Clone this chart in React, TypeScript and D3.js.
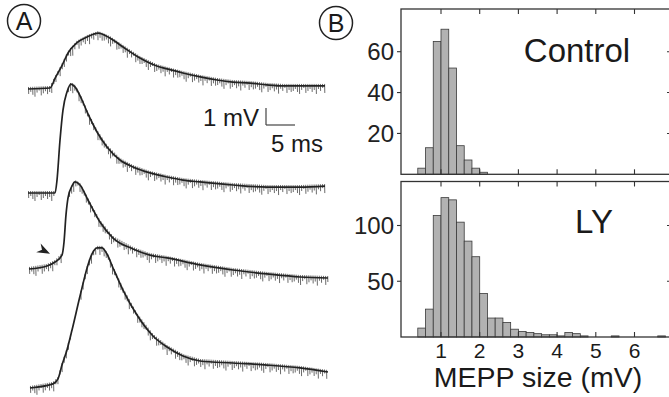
import React from "react";
import * as d3 from "d3";

// ---------- Panel B: MEPP size histograms (bin start, mV; bin width 0.2 mV) ----------
const binWidth = 0.2;
const controlBins = [0.4, 0.6, 0.8, 1.0, 1.2, 1.4, 1.6, 1.8, 2.0];
const controlCounts = [3, 13, 65, 71, 52, 14, 7, 3, 1];
const lyBins = [0.4, 0.6, 0.8, 1.0, 1.2, 1.4, 1.6, 1.8, 2.0, 2.2, 2.4, 2.6, 2.8, 3.0, 3.2, 3.4, 3.6, 3.8, 4.0, 4.2, 4.4, 4.6, 5.4, 6.6];
const lyCounts = [8, 25, 109, 125, 123, 103, 86, 72, 39, 17, 17, 13, 7, 5, 4, 3, 2, 2, 1, 4, 3, 1, 1, 1];
const xTicks = [1, 2, 3, 4, 5, 6];
const controlYTicks = [20, 40, 60];
const lyYTicks = [50, 100];

// ---------- Panel A: EPP traces, time (ms) vs amplitude (mV) above own baseline ----------
const trace1T = [0, 3.8, 4.7, 5.9, 6.9, 8.4, 10.2, 12.1, 14.1, 16.4, 19.3, 22.2, 24.0, 26.7, 29.7, 32.6, 35.3, 38.3, 41.2, 44.0, 46.9, 51.2];
const trace1V = [0, 0.06, 0.65, 1.41, 2.12, 2.71, 3.06, 3.29, 3.0, 2.47, 1.82, 1.35, 1.18, 0.94, 0.71, 0.53, 0.41, 0.35, 0.24, 0.18, 0.18, 0.18];
const trace2T = [0, 4.66, 5.0, 5.52, 6.03, 6.72, 7.41, 8.1, 9.31, 10.34, 11.9, 13.62, 15.86, 18.1, 21.03, 23.97, 26.72, 29.66, 35.34, 41.21, 46.9, 51.21];
const trace2V = [0, 0, 0.76, 3.12, 4.88, 5.94, 6.41, 6.24, 5.47, 4.65, 3.59, 2.71, 1.94, 1.53, 1.18, 0.94, 0.76, 0.65, 0.47, 0.35, 0.35, 0.41];
const trace3T = [0.17, 3.28, 4.66, 5.86, 6.21, 6.55, 6.9, 7.59, 8.1, 8.97, 10.34, 12.41, 14.66, 18.1, 21.03, 23.97, 29.66, 35.34, 41.21, 46.9, 51.72];
const trace3V = [0, 0.18, 0.41, 0.82, 1.59, 3.18, 4.18, 4.88, 5.12, 4.94, 4.06, 2.76, 1.82, 1.18, 0.82, 0.65, 0.24, -0.06, -0.29, -0.47, -0.53];
const trace4T = [0.34, 4.31, 5.17, 5.86, 6.72, 7.59, 8.97, 10.34, 11.03, 11.9, 12.76, 13.62, 14.66, 16.38, 18.79, 21.55, 23.97, 26.72, 29.66, 35.34, 41.21, 46.9, 51.72];
const trace4V = [0, 0.24, 0.53, 1.35, 2.24, 3.41, 5.41, 7.24, 7.88, 8.24, 8.24, 7.88, 7.06, 5.76, 4.29, 3.06, 2.41, 1.88, 1.59, 1.47, 1.35, 1.18, 0.94];
const scaleBarMs = 5;
const scaleBarMv = 1;
// arrowhead annotation on trace 3 (ms, mV)
const arrowAt = [3.8, 0.9];

// ---------- styles / layout ----------
const FONT = "'Liberation Sans', Arial, Helvetica, sans-serif";
const NOISE = [5, 3, 6, 8, 4, 2, 7, 5, 3, 6, 4, 8, 3, 5, 2, 7, 4, 6];

export default function App() {
  const W = 669;
  const H = 397;

  // histogram scales
  const x = d3.scaleLinear().domain([0, 7]).range([402.3, 402.3 + 7 * 38.7]);
  const panelLeft = 401;
  const panelRight = 672;
  const topC = 9, botC = 174.3;
  const topL = 181.5, botL = 337;
  const yC = d3.scaleLinear().domain([0, 60]).range([botC, 51.7]);
  const yL = d3.scaleLinear().domain([0, 100]).range([botL, 225.5]);

  // trace scales
  const tx = d3.scaleLinear().domain([0, 5]).range([28, 57]);
  const mvPx = 17;
  const baselines = [89, 193, 269, 388];
  const traces = [
    { t: trace1T, v: trace1V },
    { t: trace2T, v: trace2V },
    { t: trace3T, v: trace3V },
    { t: trace4T, v: trace4V },
  ];

  const barFill = "#b2b2b2";
  const barStroke = "#3a3a3a";
  const axisStroke = "#333";

  const renderHist = (
    key: string,
    bins: number[],
    counts: number[],
    y: d3.ScaleLinear<number, number>,
    top: number,
    bot: number,
    yTicks: number[],
    label: string,
    labelX: number,
    labelY: number
  ) => (
    <g key={key}>
      {bins.map((b, i) => (
        <rect
          key={i}
          x={x(b)}
          y={y(counts[i])}
          width={x(b + binWidth) - x(b)}
          height={Math.max(0, y(0) - y(counts[i]))}
          fill={barFill}
          stroke={barStroke}
          strokeWidth={0.8}
        />
      ))}
      <rect x={panelLeft} y={top} width={panelRight - panelLeft} height={bot - top} fill="none" stroke={axisStroke} strokeWidth={1.3} />
      {xTicks.map((t) => (
        <g key={t}>
          <line x1={x(t)} x2={x(t)} y1={top} y2={top + 5} stroke={axisStroke} strokeWidth={1.1} />
          <line x1={x(t)} x2={x(t)} y1={bot} y2={bot - 5} stroke={axisStroke} strokeWidth={1.1} />
        </g>
      ))}
      {yTicks.map((t) => (
        <g key={t}>
          <line x1={panelLeft - 4} x2={panelLeft} y1={y(t)} y2={y(t)} stroke={axisStroke} strokeWidth={1.1} />
          <line x1={panelRight - 5} x2={panelRight} y1={y(t)} y2={y(t)} stroke={axisStroke} strokeWidth={1.1} />
          <text x={panelLeft - 7} y={y(t) + 8.5} textAnchor="end" fontSize={24} fontFamily={FONT} fill="#222">
            {t}
          </text>
        </g>
      ))}
      <text x={labelX} y={labelY} textAnchor="middle" fontSize={33} fontFamily={FONT} fill="#1a1a1a">
        {label}
      </text>
    </g>
  );

  // trace paths
  const tracePaths = traces.map((tr, k) => {
    const ty = d3.scaleLinear().domain([0, 1]).range([baselines[k], baselines[k] - mvPx]);
    const pts: [number, number][] = tr.t.map((t, i) => [tx(t), ty(tr.v[i])]);
    const path = d3.line().curve(d3.curveMonotoneX)(pts) || "";
    // noise texture: short downward spikes along the trace
    const ticks: { x: number; y: number; l: number }[] = [];
    let n = 0;
    for (let xx = pts[0][0] + 0.5; xx < pts[pts.length - 1][0]; xx += 2.1) {
      const j = d3.bisector((p: [number, number]) => p[0]).right(pts, xx) - 1;
      const a = pts[Math.max(0, j)];
      const b = pts[Math.min(pts.length - 1, j + 1)];
      const f = b[0] === a[0] ? 0 : (xx - a[0]) / (b[0] - a[0]);
      const slope = Math.abs((b[1] - a[1]) / Math.max(0.001, b[0] - a[0]));
      if (slope > 4) { n++; continue; }
      ticks.push({ x: xx, y: a[1] + f * (b[1] - a[1]), l: NOISE[n % NOISE.length] });
      n++;
    }
    return { path, ticks };
  });

  // scale bar
  const sbX = 266;
  const sbY = 125;
  const sbW = tx(scaleBarMs) - tx(0);
  const sbH = scaleBarMv * mvPx;

  // arrowhead
  const ty3 = d3.scaleLinear().domain([0, 1]).range([baselines[2], baselines[2] - mvPx]);
  const tip = [tx(arrowAt[0]), ty3(arrowAt[1])];
  const dir = [0.894, 0.447];
  const perp = [-0.447, 0.894];
  const back = [tip[0] - 13 * dir[0], tip[1] - 13 * dir[1]];
  const notch = [tip[0] - 9 * dir[0], tip[1] - 9 * dir[1]];
  const w1 = [back[0] + 5 * perp[0], back[1] + 5 * perp[1]];
  const w2 = [back[0] - 5 * perp[0], back[1] - 5 * perp[1]];
  const arrowPath = `M${tip[0]},${tip[1]} L${w1[0]},${w1[1]} L${notch[0]},${notch[1]} L${w2[0]},${w2[1]} Z`;

  return (
    <svg width={W} height={H} style={{ position: "fixed", left: 0, top: 0, background: "#fff" }}>
      <rect x={0} y={0} width={W} height={H} fill="#fff" />

      {/* Panel A */}
      <circle cx={24} cy={21} r={16.5} fill="none" stroke="#222" strokeWidth={1.5} />
      <text x={24} y={30} textAnchor="middle" fontSize={25} fontFamily={FONT} fill="#1a1a1a">A</text>

      {tracePaths.map((tp, k) => (
        <g key={k}>
          {tp.ticks.map((tk, i) => (
            <line key={i} x1={tk.x} x2={tk.x + 0.2} y1={tk.y - 2} y2={tk.y + tk.l} stroke="#3c3c3c" strokeWidth={0.9} strokeOpacity={0.85} />
          ))}
          <path d={tp.path} fill="none" stroke="#222" strokeWidth={1.7} />
        </g>
      ))}

      <path d={arrowPath} fill="#222" />

      <line x1={sbX} x2={sbX} y1={sbY - sbH} y2={sbY} stroke="#444" strokeWidth={1.2} />
      <line x1={sbX} x2={sbX + sbW} y1={sbY} y2={sbY} stroke="#444" strokeWidth={1.2} />
      <text x={259} y={126} textAnchor="end" fontSize={24} fontFamily={FONT} fill="#1a1a1a">1 mV</text>
      <text x={323} y={152} textAnchor="end" fontSize={24} fontFamily={FONT} fill="#1a1a1a">5 ms</text>

      {/* Panel B */}
      <circle cx={336} cy={23} r={16.5} fill="none" stroke="#222" strokeWidth={1.5} />
      <text x={336} y={32} textAnchor="middle" fontSize={25} fontFamily={FONT} fill="#1a1a1a">B</text>

      {renderHist("c", controlBins, controlCounts, yC, topC, botC, controlYTicks, "Control", 577, 62)}
      {renderHist("l", lyBins, lyCounts, yL, topL, botL, lyYTicks, "LY", 594, 233)}

      {xTicks.map((t) => (
        <text key={t} x={x(t)} y={358} textAnchor="middle" fontSize={21} fontFamily={FONT} fill="#1a1a1a">
          {t}
        </text>
      ))}
      <text x={538} y={387} textAnchor="middle" fontSize={28.5} fontFamily={FONT} fill="#1a1a1a">
        MEPP size (mV)
      </text>
    </svg>
  );
}
